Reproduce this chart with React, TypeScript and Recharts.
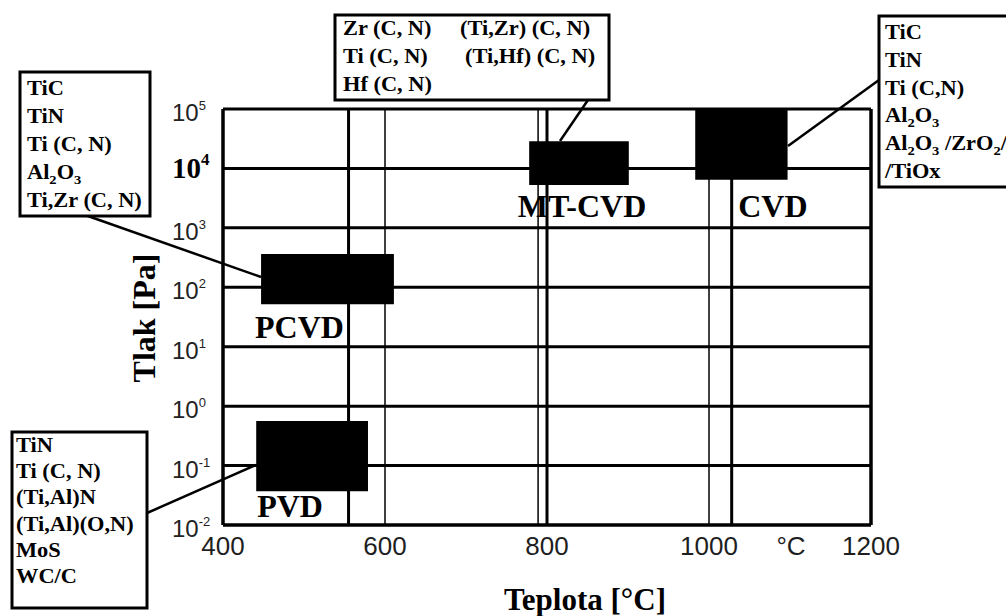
import {
  ComposedChart,
  XAxis,
  YAxis,
  CartesianGrid,
  ReferenceArea,
  ReferenceLine,
  Scatter,
} from 'recharts'

const SERIF = "'Liberation Serif', 'Times New Roman', serif"
const SANS = "'Liberation Sans', Arial, sans-serif"

// axis ticks
const xTicks = [400, 600, 800, 1000, 1200]
const yTicks = [0.01, 0.1, 1, 10, 100, 1000, 10000, 100000]
const yExponents = ['-2', '-1', '0', '1', '2', '3', '4', '5']

// process windows (temperature °C, pressure Pa)
const processNames = ['PVD', 'PCVD', 'MT-CVD', 'CVD']
const tempFrom = [441, 447, 778, 983]
const tempTo = [579, 611, 901, 1097]
const pressFrom = [0.037, 52, 5250, 6450]
const pressTo = [0.56, 363, 28800, 100000]

// vertical guide lines
const thickTemps = [555, 800, 1028]
const thinTemps = [600, 789, 1000]

// coatings per process
const pvdCoatings = ['TiN', 'Ti (C, N)', '(Ti,Al)N', '(Ti,Al)(O,N)', 'MoS', 'WC/C']
const pcvdCoatings = ['TiC', 'TiN', 'Ti (C, N)', 'Al2O3', 'Ti,Zr (C, N)']
const mtcvdCoatingsLeft = ['Zr (C, N)', 'Ti (C, N)', 'Hf (C, N)']
const mtcvdCoatingsRight = ['(Ti,Zr) (C, N)', '(Ti,Hf) (C, N)']
const cvdCoatings = ['TiC', 'TiN', 'Ti (C,N)', 'Al2O3', 'Al2O3 /ZrO2/', '/TiOx']

const LABEL_POS: Record<string, { dx: number; dy: number; anchor: 'start' | 'middle'; knockout?: boolean }> = {
  PVD: { dx: 1, dy: 26, anchor: 'start' },
  PCVD: { dx: -6, dy: 34, anchor: 'start' },
  'MT-CVD': { dx: 3, dy: 32, anchor: 'middle', knockout: true },
  CVD: { dx: 43, dy: 37, anchor: 'start' },
}

const regions = processNames.map((name, i) => ({
  name,
  x1: tempFrom[i],
  x2: tempTo[i],
  y1: pressFrom[i],
  y2: pressTo[i],
}))

// corner points, only used so the axes have data to work from
const cornerPoints = regions.flatMap((r) => [
  { t: r.x1, p: r.y1 },
  { t: r.x2, p: r.y2 },
])

function chem(text: string, sub: number) {
  const parts = text.split(/(\d)/).filter(Boolean)
  let down = false
  return parts.map((p, i) => {
    if (/\d/.test(p)) {
      const el = (
        <tspan key={i} dy={down ? 0 : 5} fontSize={sub}>
          {p}
        </tspan>
      )
      down = true
      return el
    }
    const el = (
      <tspan key={i} dy={down ? -5 : 0}>
        {p}
      </tspan>
    )
    down = false
    return el
  })
}

function XTick(props: any) {
  const { x, y, payload } = props
  return (
    <text x={x} y={y + 22} textAnchor="middle" fontFamily={SANS} fontSize={26} fill="#1e1e1e">
      {payload.value}
    </text>
  )
}

function YTick(props: any) {
  const { x, y, payload } = props
  const idx = yTicks.indexOf(payload.value)
  const exp = idx >= 0 ? yExponents[idx] : String(Math.round(Math.log10(payload.value)))
  if (exp === '4') {
    return (
      <text x={x - 43} y={y + 10} fontFamily={SERIF} fontWeight="bold" fontSize={29} fill="#000">
        10
        <tspan dy={-13} fontSize={17}>
          {exp}
        </tspan>
      </text>
    )
  }
  return (
    <text x={x - 43} y={y + 12} fontFamily={SANS} fontSize={24} fill="#222">
      10
      <tspan dy={-11} fontSize={13}>
        {exp}
      </tspan>
    </text>
  )
}

function RegionLabel(props: any) {
  const { viewBox, name } = props
  if (!viewBox) return null
  const pos = LABEL_POS[name]
  const bx = pos.anchor === 'middle' ? viewBox.x + viewBox.width / 2 + pos.dx : viewBox.x + pos.dx
  const by = viewBox.y + viewBox.height + pos.dy
  return (
    <g>
      {pos.knockout && (
        <rect x={bx - 50} y={viewBox.y + viewBox.height + 1} width={40} height={pos.dy + 2} fill="#fff" />
      )}
      <text x={bx} y={by} textAnchor={pos.anchor} fontFamily={SERIF} fontWeight="bold" fontSize={32} fill="#000">
        {name}
      </text>
    </g>
  )
}

function XTitle(props: any) {
  const { viewBox } = props
  if (!viewBox) return null
  return (
    <text
      x={viewBox.x + viewBox.width / 2 + 38}
      y={viewBox.y + 85}
      textAnchor="middle"
      fontFamily={SERIF}
      fontWeight="bold"
      fontSize={31}
      fill="#000"
    >
      Teplota [°C]
    </text>
  )
}

function YTitle(props: any) {
  const { viewBox } = props
  if (!viewBox) return null
  const cx = viewBox.x - 8
  const cy = viewBox.y + viewBox.height / 2 + 1
  return (
    <text
      x={cx}
      y={cy}
      transform={`rotate(-90 ${cx} ${cy})`}
      textAnchor="middle"
      fontFamily={SERIF}
      fontWeight="bold"
      fontSize={32}
      fill="#000"
    >
      Tlak [Pa]
    </text>
  )
}

function CoatingBox({
  x, y, w, h, lines, tx, ty, step,
}: { x: number; y: number; w: number; h: number; lines: string[]; tx: number; ty: number; step: number }) {
  return (
    <g>
      <rect x={x} y={y} width={w} height={h} fill="#fff" stroke="#000" strokeWidth={3} />
      <g transform={`translate(${tx} 0) scale(1.12 1) translate(${-tx} 0)`}>
        {lines.map((t, i) => (
          <text key={i} x={tx} y={ty + i * step} fontFamily={SERIF} fontWeight="bold" fontSize={20} fill="#000">
            {chem(t, 13)}
          </text>
        ))}
      </g>
    </g>
  )
}

export default function App() {
  return (
    <div style={{ position: 'absolute', left: 0, top: 0, width: 1006, height: 616, background: '#fff', overflow: 'hidden' }}>
      <ComposedChart width={1006} height={616} data={cornerPoints} margin={{ top: 109, right: 135, bottom: 51, left: 163 }}>
        <CartesianGrid vertical={false} stroke="#000" strokeWidth={3} />
        <XAxis
          type="number"
          dataKey="t"
          domain={[400, 1200]}
          ticks={xTicks}
          allowDataOverflow
          height={40}
          axisLine={{ stroke: '#000', strokeWidth: 3 }}
          tickLine={false}
          tick={<XTick />}
          label={<XTitle />}
        />
        <YAxis
          type="number"
          dataKey="p"
          scale="log"
          domain={[0.01, 100000]}
          ticks={yTicks}
          allowDataOverflow
          width={60}
          axisLine={{ stroke: '#000', strokeWidth: 3 }}
          tickLine={false}
          tick={<YTick />}
          label={<YTitle />}
        />
        <Scatter data={cornerPoints} dataKey="p" fill="none" shape={() => <g />} isAnimationActive={false} />
        <ReferenceLine x={400} stroke="#000" strokeWidth={3} />
        <ReferenceLine x={1200} stroke="#000" strokeWidth={3.5} />
        {thinTemps.map((t) => (
          <ReferenceLine key={`thin-${t}`} x={t} stroke="#000" strokeWidth={1.5} />
        ))}
        {thickTemps.map((t) => (
          <ReferenceLine key={`thick-${t}`} x={t} stroke="#000" strokeWidth={3} />
        ))}
        {regions.map((r) => (
          <ReferenceArea
            key={r.name}
            x1={r.x1}
            x2={r.x2}
            y1={r.y1}
            y2={r.y2}
            fill="#000"
            fillOpacity={1}
            stroke="none"
            label={<RegionLabel name={r.name} />}
          />
        ))}
      </ComposedChart>
      <svg width={1006} height={616} style={{ position: 'absolute', left: 0, top: 0, pointerEvents: 'none' }}>
        <text x={791} y={555} textAnchor="middle" fontFamily={SANS} fontSize={26} fill="#1e1e1e">
          °C
        </text>
        {/* leader lines */}
        <g stroke="#000" strokeWidth={2.5}>
          <line x1={85} y1={215} x2={261} y2={277} />
          <line x1={147} y1={513} x2={256} y2={465} />
          <line x1={588} y1={100} x2={560} y2={141} />
          <line x1={879} y1={80} x2={788} y2={146} />
        </g>
        <CoatingBox x={20} y={72} w={130} h={144} lines={pcvdCoatings} tx={27} ty={95} step={28} />
        <CoatingBox x={12} y={432} w={135} h={176} lines={pvdCoatings} tx={16} ty={452} step={26.2} />
        <CoatingBox x={879} y={16} w={140} h={171} lines={cvdCoatings} tx={885} ty={39} step={27.8} />
        <g>
          <rect x={335} y={15} width={274} height={85} fill="#fff" stroke="#000" strokeWidth={3} />
          <g transform="translate(343 0) scale(1.12 1) translate(-343 0)">
            {mtcvdCoatingsLeft.map((t, i) => (
              <text key={t} x={343} y={35 + i * 28} fontFamily={SERIF} fontWeight="bold" fontSize={20} fill="#000">
                {t}
              </text>
            ))}
          </g>
          {mtcvdCoatingsRight.map((t, i) => (
            <g key={t} transform={`translate(${460 + i * 5} 0) scale(1.12 1) translate(${-(460 + i * 5)} 0)`}>
              <text x={460 + i * 5} y={35 + i * 28} fontFamily={SERIF} fontWeight="bold" fontSize={20} fill="#000">
                {t}
              </text>
            </g>
          ))}
        </g>
      </svg>
    </div>
  )
}
